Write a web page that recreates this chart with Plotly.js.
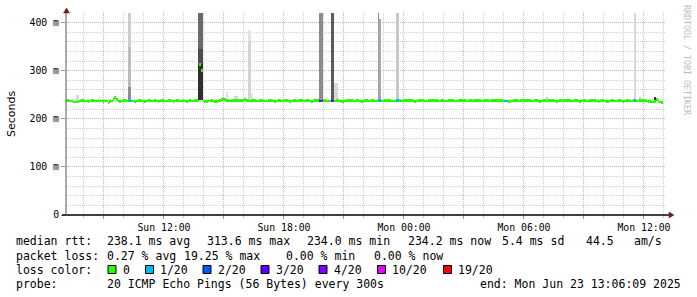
<!DOCTYPE html>
<html>
<head>
<meta charset="utf-8">
<script src="https://cdn.plot.ly/plotly-3.0.1.min.js"></script>
<style>
html,body{margin:0;padding:0;background:#fff;}
#chart{width:697px;height:297px;}
</style>
</head>
<body>
<div id="chart"></div>
<script>
// ---------------- DATA ----------------
// time axis in hours since Sun 00:00; samples every 5 minutes
var firstStepHour = 7.1025;          // Sun 07:06:09
var stepMinutes = 5;
var axisStartHour = 7.1025, axisEndHour = 37.1025; // Sun 07:06:09 .. Mon 13:06:09

var xTickHours = [9, 12, 15, 18, 21, 24, 27, 30, 33, 36];
var xTickLabels = ["", "Sun 12:00", "", "Sun 18:00", "", "Mon 00:00", "", "Mon 06:00", "", "Mon 12:00"];
var yTickValues = [0, 100, 200, 300, 400];          // ms
var yTickLabels = ["0", "100 m", "200 m", "300 m", "400 m"];

// median rtt per 5-minute step (ms)
var medianRtt = [
 238,238,237,237,235,235,235,236,237,238,238,237,237,236,237,238,238,237,237,238,
 237,237,236,237,237,233,236,237,240,244,240,237,236,237,238,238,237,237,238,237,
 237,236,237,238,238,237,237,236,237,238,238,237,237,238,237,236,237,238,238,237,
 237,238,238,237,236,237,238,238,237,237,238,237,236,237,238,237,237,238,238,237,
 313.6,300,237,236,236,237,237,238,237,236,236,237,238,240,242,240,238,238,237,238,
 238,238,239,238,238,238,238,241,238,238,237,238,238,238,237,237,238,238,237,237,
 237,238,238,238,237,236,237,238,238,237,237,238,238,237,236,237,238,238,237,238,
 238,238,237,237,238,238,237,236,237,238,238,238,237,237,238,238,237,237,237,237,
 237,237,238,238,237,236,236,237,238,238,239,238,237,237,238,238,237,236,237,238,
 238,237,237,238,238,237,237,238,238,237,237,238,238,239,238,237,237,237,238,238,
 238,237,237,238,238,239,238,238,237,236,237,238,238,239,238,237,237,238,238,238,
 238,239,238,237,237,238,238,237,237,238,239,239,238,237,237,238,238,239,238,238,
 237,237,238,238,237,238,238,239,238,237,237,238,238,238,237,238,238,239,238,238,
 238,238,237,237,237,236,236,237,238,238,238,237,237,238,238,238,239,238,238,237,
 237,238,238,237,236,237,238,238,237,238,239,238,238,237,236,237,238,238,237,238,
 238,239,238,237,237,238,238,237,236,237,238,238,237,237,238,239,238,238,237,236,
 237,238,238,237,236,236,237,238,238,237,237,238,238,237,236,237,238,238,237,237,
 238,238,237,237,238,239,238,238,237,236,236,235,235,236,240,237,235,234.2
];

// steps with packet loss (index into medianRtt) and lost pings out of 20
var lossSteps  = [37, 38, 152, 153, 159, 160, 187, 188, 198, 199, 263, 264, 341];
var lossCounts = [ 1,  1,   4,   4,   4,   4,   1,   1,   1,   1,   1,   1,   1];

// loss colour legend
var lossLevels = [0, 1, 2, 3, 4, 10, 19];
var lossLabels = ["0", "1/20", "2/20", "3/20", "4/20", "10/20", "19/20"];
var lossColors = ["#26ff00", "#00b8ff", "#0059ff", "#5e00ff", "#7e00ff", "#dd00ff", "#ff0000"];

// smoke (ping spread) segments: step index, low ms, high ms, grey shade
var smokeStep = [6, 7, 37, 37, 37, 38, 38, 38, 79, 79, 79, 80, 80, 80, 81, 81, 81,
                 96, 101, 102, 107, 109, 109, 110, 110, 111, 149, 150, 151,
                 152, 153, 159, 160, 161, 162, 187, 187, 188, 198, 199, 288, 341, 344, 353];
var smokeLow  = [238, 238, 240, 267, 350, 240, 267, 350, 240, 315, 345, 240, 315, 345, 240, 315, 345,
                 240, 240, 240, 240, 240, 361, 240, 361, 240, 240, 240, 240,
                 240, 240, 240, 240, 240, 240, 240, 408, 240, 240, 240, 240, 240, 240, 238];
var smokeHigh = [249, 249, 267, 350, 420, 267, 350, 420, 315, 345, 420, 315, 345, 420, 315, 345, 420,
                 255, 247, 247, 245, 361, 384, 361, 384, 254, 243, 243, 243,
                 420, 420, 420, 420, 275, 275, 408, 420, 408, 420, 420, 246, 420, 245, 246];
var smokeGray = ["#d8d8d8", "#d8d8d8", "#8e8e8e", "#bcbcbc", "#cdcdcd", "#8e8e8e", "#bcbcbc", "#cdcdcd",
                 "#2e2e2e", "#4c4c4c", "#6a6a6a", "#2e2e2e", "#4c4c4c", "#6a6a6a", "#2e2e2e", "#4c4c4c", "#6a6a6a",
                 "#e0e0e0", "#d4d4d4", "#d4d4d4", "#e0e0e0", "#d4d4d4", "#e2e2e2", "#d4d4d4", "#e2e2e2", "#e6e6e6",
                 "#e4e4e4", "#e4e4e4", "#e4e4e4",
                 "#8c8c8c", "#8c8c8c", "#5c5c5c", "#5c5c5c", "#d8d8d8", "#d8d8d8",
                 "#a0a0a0", "#888888", "#a8a8a8", "#c8c8c8", "#c8c8c8", "#c8c8c8", "#d8d8d8", "#d0d0d0", "#333333"];

var statLines = [
  ["median rtt:", "238.1 ms avg", "313.6 ms max", "234.0 ms min", "234.2 ms now", "5.4 ms sd", "44.5", "am/s"],
  ["packet loss:", "0.27 % avg", "19.25 % max", "0.00 % min", "0.00 % now"],
  ["loss color:"],
  ["probe:", "20 ICMP Echo Pings (56 Bytes) every 300s", "end: Mon Jun 23 13:06:09 2025"]
];
var yAxisTitle = "Seconds";
var watermark = "RRDTOOL / TOBI OETIKER";

// ---------------- LAYOUT HELPERS ----------------
var W = 697, H = 297;
var M = {l: 66, r: 31, t: 13, b: 82};
var PW = W - M.l - M.r, PH = H - M.t - M.b;
function px2x(px) { return (px - M.l) / PW; }
function px2y(py) { return (M.t + PH - py) / PH; }

var stepH = stepMinutes / 60;
function stepCenter(i) { return firstStepHour + (i + 0.5) * stepH; }

var bandHalf = 3; // ms half-height of median band

// median band
var lossByStep = {};
lossSteps.forEach(function (s, k) { lossByStep[s] = lossCounts[k]; });
function lossColor(n) {
  var c = lossColors[0];
  for (var k = 0; k < lossLevels.length; k++) if (n >= lossLevels[k]) c = lossColors[k];
  return c;
}
var medX = [], medBase = [], medH = [], medC = [];
medianRtt.forEach(function (v, i) {
  medX.push(stepCenter(i));
  medBase.push(v - bandHalf);
  medH.push(2 * bandHalf);
  medC.push(lossColor(lossByStep[i] || 0));
});

var smokeX = smokeStep.map(stepCenter);
var smokeBase = smokeLow.slice();
var smokeHt = smokeHigh.map(function (h, k) { return h - smokeLow[k]; });

var traces = [
  {type: 'bar', x: smokeX, y: smokeHt, base: smokeBase, width: stepH,
   marker: {color: smokeGray, line: {width: 0}}, hoverinfo: 'skip', showlegend: false},
  {type: 'bar', x: medX, y: medH, base: medBase, width: stepH,
   marker: {color: medC, line: {width: 0}}, hoverinfo: 'skip', showlegend: false}
];

var mono = "DejaVu Sans Mono";
var annotations = [];
function addText(txt, px, pyCenter, size) {
  annotations.push({text: txt, xref: 'paper', yref: 'paper', x: px2x(px), y: px2y(pyCenter),
    xanchor: 'left', yanchor: 'middle', showarrow: false, borderpad: 0, borderwidth: 0,
    font: {family: mono, size: size, color: '#000'}});
}
var lineY = [241.5, 255.5, 269.5, 283.5];
var linePos = [
  [16, 107.3, 207.3, 306.7, 408, 502.3, 586, 634.3],
  [16, 107.3, 184.3, 286, 373.7],
  [16],
  [16, 107.3, 479.7]
];
statLines.forEach(function (line, r) {
  line.forEach(function (t, c) { addText(t, linePos[r][c], lineY[r], 11.5); });
});
var boxX = [108, 145.5, 203, 261, 319, 377.5, 443.5];
var boxTextX = [123.3, 160, 218.3, 276, 334, 392, 458];
var shapes = [];
lossLabels.forEach(function (lab, k) {
  shapes.push({type: 'rect', xref: 'paper', yref: 'paper', layer: 'above',
    x0: px2x(boxX[k]), x1: px2x(boxX[k] + 8), y0: px2y(265.5), y1: px2y(273.5),
    fillcolor: lossColors[k], line: {color: '#000', width: 1}});
  addText(lab, boxTextX[k], lineY[2], 11.5);
});

// y title
annotations.push({text: yAxisTitle, xref: 'paper', yref: 'paper', x: px2x(11), y: 0.5,
  xanchor: 'center', yanchor: 'middle', textangle: -90, showarrow: false,
  font: {family: "DejaVu Sans", size: 11, color: '#000'}});
// watermark
annotations.push({text: watermark, xref: 'paper', yref: 'paper', x: px2x(687), y: px2y(60),
  xanchor: 'center', yanchor: 'middle', textangle: 90, showarrow: false,
  font: {family: mono, size: 8.3, color: '#bcbcbc'}});

// axis lines and arrows
shapes.push({type: 'line', xref: 'paper', yref: 'paper', layer: 'above',
  x0: px2x(62), x1: px2x(669), y0: 0, y1: 0, line: {color: '#000', width: 1.6}});
shapes.push({type: 'line', xref: 'paper', yref: 'paper', layer: 'above',
  x0: 0, x1: 0, y0: 0, y1: px2y(10), line: {color: '#555', width: 1}});
var arrowColor = '#7a1a1a';
shapes.push({type: 'path', xref: 'paper', yref: 'paper', layer: 'above',
  path: 'M' + px2x(669) + ',' + px2y(212) + ' L' + px2x(674) + ',' + px2y(215) + ' L' + px2x(669) + ',' + px2y(218) + ' Z',
  fillcolor: arrowColor, line: {color: arrowColor, width: 0.5}});
shapes.push({type: 'path', xref: 'paper', yref: 'paper', layer: 'above',
  path: 'M' + px2x(63.5) + ',' + px2y(13) + ' L' + px2x(66.5) + ',' + px2y(8) + ' L' + px2x(69.5) + ',' + px2y(13) + ' Z',
  fillcolor: arrowColor, line: {color: arrowColor, width: 0.5}});

var minorGrid = '#d0d0d0', majorGrid = '#dbadad';
var layout = {
  width: W, height: H,
  margin: M,
  paper_bgcolor: '#fff', plot_bgcolor: '#fff',
  barmode: 'overlay', bargap: 0,
  showlegend: false,
  xaxis: {
    type: 'linear', range: [axisStartHour, axisEndHour], fixedrange: true,
    tickmode: 'array', tickvals: xTickHours, ticktext: xTickLabels,
    showgrid: true, gridcolor: majorGrid, griddash: '1px,1px', gridwidth: 1,
    ticks: 'outside', ticklen: 3, tickcolor: '#c08a8a', tickwidth: 1,
    tickfont: {family: mono, size: 9.8, color: '#000'},
    minor: {dtick: 1, tick0: 0, showgrid: true, gridcolor: minorGrid, griddash: '1px,1px', gridwidth: 1,
            ticks: 'outside', ticklen: 2, tickcolor: '#c8c8c8'},
    zeroline: false, showline: false
  },
  yaxis: {
    range: [0, 420], fixedrange: true,
    tickmode: 'array', tickvals: yTickValues, ticktext: yTickLabels,
    showgrid: true, gridcolor: majorGrid, griddash: '1px,1px', gridwidth: 1,
    ticks: 'outside', ticklen: 4, tickcolor: '#999', tickwidth: 1,
    tickfont: {family: mono, size: 9.8, color: '#000'},
    minor: {dtick: 20, tick0: 0, showgrid: true, gridcolor: minorGrid, griddash: '1px,1px', gridwidth: 1},
    zeroline: false, showline: false
  },
  annotations: annotations,
  shapes: shapes
};

Plotly.newPlot('chart', traces, layout, {displayModeBar: false, staticPlot: true});
</script>
</body>
</html>
